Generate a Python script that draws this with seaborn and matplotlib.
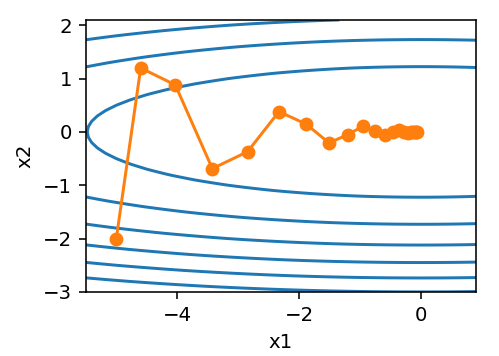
import numpy as np
import matplotlib
matplotlib.use("Agg")
import matplotlib.pyplot as plt
import seaborn as sns

# momentum trajectory (x1, x2 per step)
traj_x1 = [-5.0, -4.6, -4.032, -3.425, -2.848, -2.332, -1.887, -1.513, -1.206,
           -0.955, -0.754, -0.593, -0.465, -0.364, -0.284, -0.221, -0.172,
           -0.134, -0.104, -0.081, -0.063]
traj_x2 = [-2.0, 1.2, 0.88, -0.688, -0.371, 0.381, 0.147, -0.205, -0.053,
           0.108, 0.016, -0.056, -0.002, 0.028, -0.002, -0.014, 0.002,
           0.007, -0.002, -0.003, 0.001]

# contour background: f(x1, x2) = 0.1*x1^2 + 2*x2^2
coef_x1 = 0.1
coef_x2 = 2.0
grid_x1 = np.arange(-5.5, 1.0, 0.1)
grid_x2 = np.arange(-3.0, 2.2, 0.1)

dpi = 142.6
fig, ax = plt.subplots(figsize=(499 / dpi, 356 / dpi), dpi=dpi)
fig.subplots_adjust(left=0.172, right=0.954, top=0.944, bottom=0.18)

g1, g2 = np.meshgrid(grid_x1, grid_x2)
ax.contour(g1, g2, coef_x1 * g1 ** 2 + coef_x2 * g2 ** 2, colors='#1f77b4')

sns.lineplot(x=traj_x1, y=traj_x2, sort=False, marker='o', color='#ff7f0e',
             markersize=6, markeredgecolor='#ff7f0e', markeredgewidth=1,
             linewidth=1.5, ax=ax)

ax.set_xlabel("x1")
ax.set_ylabel("x2")
fig.savefig("out.png", dpi=dpi)
